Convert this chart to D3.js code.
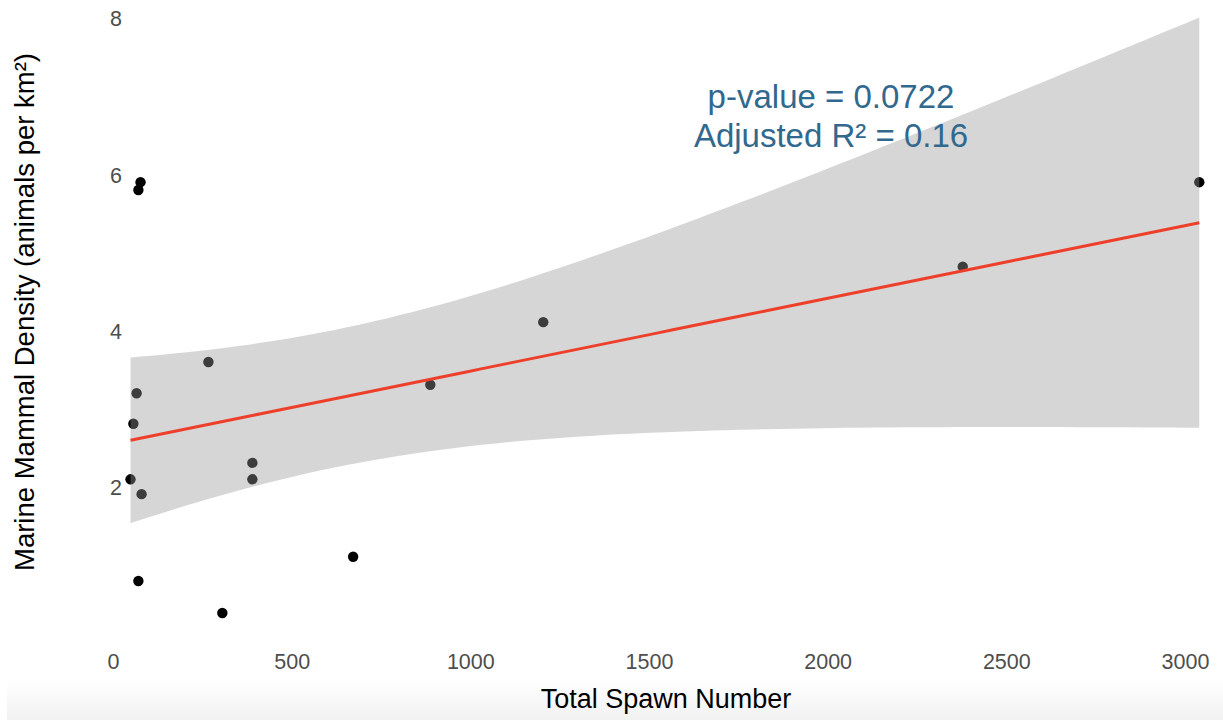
<!DOCTYPE html>
<html>
<head>
<meta charset="utf-8">
<script src="https://cdn.jsdelivr.net/npm/d3@7"></script>
<style>
  html, body { margin: 0; padding: 0; background: #fff; }
  svg text { font-family: "Liberation Sans", Arial, sans-serif; }
</style>
</head>
<body>
<div id="chart"></div>
<script>
const spawn = [77, 71, 267, 66, 57, 49, 80, 390, 390, 71, 306, 672, 888, 1204, 2378, 3040];
const density = [5.90, 5.80, 3.60, 3.20, 2.81, 2.10, 1.91, 2.31, 2.10, 0.80, 0.39, 1.11, 3.31, 4.11, 4.82, 5.90];

const xTicks = [0, 500, 1000, 1500, 2000, 2500, 3000];
const yTicks = [2, 4, 6, 8];
const statLines = ["p-value = 0.0722", "Adjusted R\u00b2 = 0.16"];

const W = 1223, H = 720;

const svg = d3.select('#chart').append('svg')
  .attr('width', W)
  .attr('height', H);

// faint screenshot shading at the bottom edge
const defs = svg.append('defs');
const fade = defs.append('linearGradient')
  .attr('id', 'bottom-fade')
  .attr('x1', 0).attr('y1', 0).attr('x2', 0).attr('y2', 1);
fade.append('stop').attr('offset', '0%').attr('stop-color', '#ffffff');
fade.append('stop').attr('offset', '100%').attr('stop-color', '#f1f1f1');
svg.append('rect')
  .attr('x', 7).attr('y', 680)
  .attr('width', W - 7).attr('height', 40)
  .attr('fill', 'url(#bottom-fade)');

const x = d3.scaleLinear().domain([0, 3000]).range([113, 1185]);
const y = d3.scaleLinear().domain([0, 8]).range([643.5, 18]);

const data = spawn.map((s, i) => ({ x: s, y: density[i] }));

// Linear fit with 95% confidence band (as geom_smooth(method = "lm"))
const n = data.length;
const mx = d3.mean(data, d => d.x);
const my = d3.mean(data, d => d.y);
const sxx = d3.sum(data, d => (d.x - mx) ** 2);
const sxy = d3.sum(data, d => (d.x - mx) * (d.y - my));
const slope = sxy / sxx;
const intercept = my - slope * mx;
const sse = d3.sum(data, d => (d.y - (intercept + slope * d.x)) ** 2);
const s = Math.sqrt(sse / (n - 2));
const tcrit = 2.145; // t(0.975, 14)

const [xmin, xmax] = d3.extent(spawn);
const fit = d3.range(80).map(i => {
  const xv = xmin + (xmax - xmin) * i / 79;
  const yv = intercept + slope * xv;
  const se = s * Math.sqrt(1 / n + (xv - mx) ** 2 / sxx);
  return { x: xv, y: yv, lo: yv - tcrit * se, hi: yv + tcrit * se };
});

// Points (drawn first, ribbon sits on top like ggplot)
svg.append('g')
  .selectAll('circle')
  .data(data)
  .join('circle')
  .attr('cx', d => x(d.x))
  .attr('cy', d => y(d.y))
  .attr('r', 5.2)
  .attr('fill', '#000');

svg.append('path')
  .datum(fit)
  .attr('fill', '#999999')
  .attr('fill-opacity', 0.4)
  .attr('d', d3.area().x(d => x(d.x)).y0(d => y(d.lo)).y1(d => y(d.hi)));

svg.append('path')
  .datum(fit)
  .attr('fill', 'none')
  .attr('stroke', '#ee3f2a')
  .attr('stroke-width', 3)
  .attr('d', d3.line().x(d => x(d.x)).y(d => y(d.y)));

// Axes (no lines, labels only)
const xAxis = svg.append('g')
  .attr('transform', 'translate(0,650)')
  .call(d3.axisBottom(x).tickValues(xTicks).tickSize(0).tickPadding(0).tickFormat(d3.format('d')));
xAxis.select('.domain').remove();
xAxis.selectAll('text')
  .attr('dy', null)
  .attr('y', 19)
  .attr('fill', '#4d4d4d')
  .style('font-size', '21.5px');

const yAxis = svg.append('g')
  .attr('transform', 'translate(122,0)')
  .call(d3.axisLeft(y).tickValues(yTicks).tickSize(0).tickPadding(0));
yAxis.select('.domain').remove();
yAxis.selectAll('text')
  .attr('dy', '0.36em')
  .attr('fill', '#4d4d4d')
  .style('font-size', '21.5px');

// Axis titles
svg.append('text')
  .attr('x', 666).attr('y', 708)
  .attr('text-anchor', 'middle')
  .attr('fill', '#000')
  .style('font-size', '27px')
  .text('Total Spawn Number');

svg.append('text')
  .attr('transform', 'translate(34,312) rotate(-90)')
  .attr('text-anchor', 'middle')
  .attr('fill', '#000')
  .style('font-size', '27.5px')
  .text('Marine Mammal Density (animals per km\u00b2)');

// Model stats annotation
svg.append('g')
  .selectAll('text')
  .data(statLines)
  .join('text')
  .attr('x', 831)
  .attr('y', (d, i) => 108 + i * 39)
  .attr('text-anchor', 'middle')
  .attr('fill', '#31688e')
  .style('font-size', '33px')
  .text(d => d);
</script>
</body>
</html>
